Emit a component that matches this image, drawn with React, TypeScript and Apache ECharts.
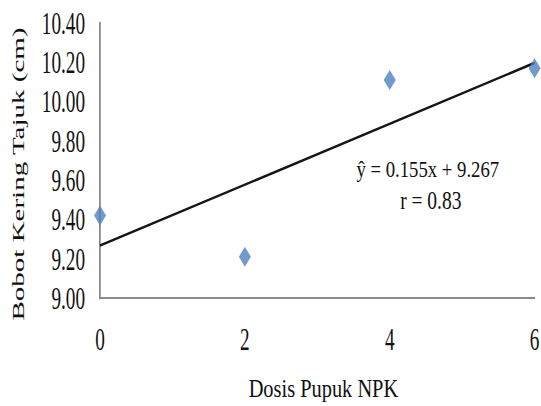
import React, { useEffect, useRef } from "react";
import * as echarts from "echarts";

// Data
const doses: number[] = [0, 2, 4, 6];
const dryWeight: number[] = [9.42, 9.21, 10.11, 10.17];
const trendX: number[] = [0, 6];
const trendY: number[] = [9.267, 10.197];
const yMin = 9.0;
const yMax = 10.4;
const yStep = 0.2;
const xMin = 0;
const xMax = 6;
const xStep = 2;
const xTitle = "Dosis Pupuk NPK";
const yTitle = "Bobot Kering Tajuk (cm)";
const eqLine = "ŷ = 0.155x + 9.267";
const rLine = "r = 0.83";

// The reference picture is squeezed horizontally; reproduce with a scaleX
const SX = 0.6;
const W = 902;
const H = 406;
const FONT = '"Liberation Serif", "Times New Roman", serif';

export default function App() {
  const ref = useRef<HTMLDivElement>(null);

  useEffect(() => {
    document.body.style.margin = "0";
    document.body.style.overflow = "hidden";
    if (!ref.current) return;
    const chart = echarts.init(ref.current, undefined, { renderer: "svg" });
    chart.setOption({
      animation: false,
      backgroundColor: "#ffffff",
      grid: { left: 166.7, right: 7, top: 23, bottom: 108, containLabel: false },
      xAxis: {
        type: "value",
        min: xMin,
        max: xMax,
        interval: xStep,
        axisLine: { show: true, lineStyle: { color: "#8a8a8a", width: 2 } },
        axisTick: { show: false },
        splitLine: { show: false },
        axisLabel: { fontFamily: FONT, fontSize: 32, color: "#111", margin: 25 },
      },
      yAxis: {
        type: "value",
        min: yMin,
        max: yMax,
        interval: yStep,
        axisLine: { show: true, lineStyle: { color: "#8a8a8a", width: 3 } },
        axisTick: { show: false },
        splitLine: { show: false },
        axisLabel: {
          fontFamily: FONT,
          fontSize: 32,
          color: "#111",
          margin: 25,
          formatter: (v: number) => v.toFixed(2),
        },
      },
      series: [
        {
          type: "line",
          data: trendX.map((x, i) => [x, trendY[i]]),
          showSymbol: false,
          symbol: "none",
          lineStyle: { color: "#151515", width: 2.6 },
          z: 2,
        },
        {
          type: "scatter",
          data: doses.map((x, i) => [x, dryWeight[i]]),
          symbol: "diamond",
          symbolSize: [20, 20],
          itemStyle: { color: "#4f81bd" },
          z: 3,
        },
      ],
      graphic: [
        {
          type: "text",
          x: 31,
          y: 174,
          rotation: Math.PI / 2,
          style: {
            text: yTitle,
            font: `29px ${FONT}`,
            fill: "#111",
            textAlign: "center",
            textVerticalAlign: "middle",
          },
        },
        {
          type: "text",
          x: 539,
          y: 389,
          scaleX: 1.36,
          style: {
            text: xTitle,
            font: `25px ${FONT}`,
            fill: "#111",
            textAlign: "center",
            textVerticalAlign: "middle",
          },
        },
        {
          type: "text",
          x: 713,
          y: 169,
          scaleX: 1.3,
          style: {
            text: eqLine,
            font: `24px ${FONT}`,
            fill: "#111",
            textAlign: "center",
            textVerticalAlign: "middle",
          },
        },
        {
          type: "text",
          x: 718,
          y: 201,
          scaleX: 1.25,
          style: {
            text: rLine,
            font: `26px ${FONT}`,
            fill: "#111",
            textAlign: "center",
            textVerticalAlign: "middle",
          },
        },
      ],
    });
    return () => chart.dispose();
  }, []);

  return (
    <div
      ref={ref}
      style={{
        position: "absolute",
        left: 0,
        top: 0,
        width: W,
        height: H,
        transform: `scaleX(${SX})`,
        transformOrigin: "0 0",
      }}
    />
  );
}
